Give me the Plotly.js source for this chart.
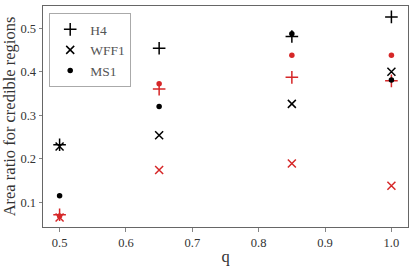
<!DOCTYPE html>
<html><head><meta charset="utf-8">
<script src="https://cdn.plot.ly/plotly-3.0.1.min.js"></script>
<style>html,body{margin:0;padding:0;background:#fff;}#chart{width:416px;height:266px;}</style>
</head><body><div id="chart"></div>
<script>
const qValues = [0.5, 0.65, 0.85, 1.0];
// black series
const blackH4 = [0.232, 0.454, 0.481, 0.526];
const blackWFF1 = [0.228, 0.254, 0.326, 0.400];
const blackMS1 = [0.115, 0.320, 0.487, 0.381];
// red series
const redH4 = [0.071, 0.360, 0.387, 0.379];
const redWFF1 = [0.065, 0.174, 0.189, 0.138];
const redMS1 = [0.068, 0.372, 0.438, 0.438];
const seriesNames = ['H4', 'WFF1', 'MS1'];

const RED = '#d62728', BLACK = '#000000';
const font = 'Liberation Serif, DejaVu Serif, serif';

function tr(y, name, color, kind, show) {
  const m = {color: color, line: {color: color, width: 1.5}};
  if (kind === 0) { m.symbol = 'cross-thin'; m.size = 9; }
  else if (kind === 1) { m.symbol = 'x-thin'; m.size = 8; }
  else { m.symbol = 'circle'; m.size = 5.5; m.line = {width: 0}; }
  return {x: qValues, y: y, name: name, type: 'scatter', mode: 'markers',
          marker: m, showlegend: show, hoverinfo: 'skip'};
}

const data = [
  tr(redWFF1, seriesNames[1], RED, 1, false),
  tr(redH4, seriesNames[0], RED, 0, false),
  tr(redMS1, seriesNames[2], RED, 2, false),
  tr(blackH4, seriesNames[0], BLACK, 0, true),
  tr(blackWFF1, seriesNames[1], BLACK, 1, true),
  tr(blackMS1, seriesNames[2], BLACK, 2, true)
];

const axisCommon = {showgrid: false, zeroline: false, showline: true, mirror: true,
  linecolor: '#666', linewidth: 1, ticks: 'outside', ticklen: 3.5, tickwidth: 0.8,
  tickcolor: '#666', tickfont: {family: font, size: 12.5, color: '#333'}};

const layout = {
  width: 416, height: 266,
  margin: {l: 43, r: 8, t: 6, b: 39},
  paper_bgcolor: '#fff', plot_bgcolor: '#fff',
  font: {family: font, color: '#222'},
  xaxis: Object.assign({}, axisCommon, {range: [0.475, 1.025], tickvals: [0.5,0.6,0.7,0.8,0.9,1.0],
    ticktext: ['0.5','0.6','0.7','0.8','0.9','1.0'],
    title: {text: 'q', font: {family: font, size: 16.5, color: '#333'}, standoff: 5}}),
  yaxis: Object.assign({}, axisCommon, {range: [0.043, 0.551], tickvals: [0.1,0.2,0.3,0.4,0.5],
    ticktext: ['0.1','0.2','0.3','0.4','0.5'],
    title: {text: 'Area ratio for credible regions', font: {family: font, size: 16.5, color: '#333'}, standoff: 5}}),
  legend: {x: 0.017, y: 0.968, xanchor: 'left', yanchor: 'top', bgcolor: 'rgba(255,255,255,0.9)',
    bordercolor: '#aaa', borderwidth: 1, font: {family: font, size: 13.5, color: '#555'},
    tracegroupgap: 0, itemwidth: 30}
};

Plotly.newPlot('chart', data, layout, {staticPlot: true, displayModeBar: false});
</script></body></html>
